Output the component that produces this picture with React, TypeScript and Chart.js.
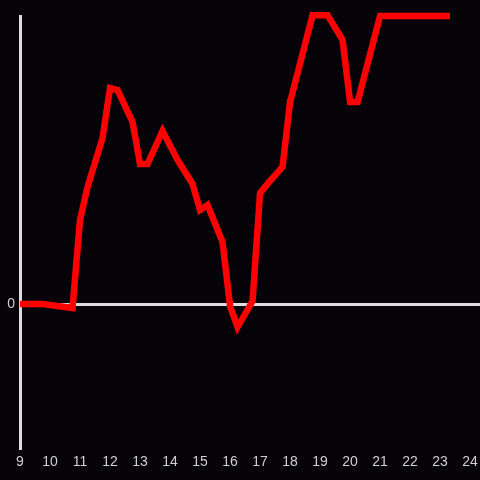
import React, { useEffect, useRef } from "react";
import { Chart, registerables } from "chart.js";

Chart.register(...registerables);

const hours: number[] = [9, 9.75, 10.75, 11, 11.25, 11.75, 12, 12.25, 12.75, 13, 13.25, 13.75, 14.25, 14.75, 15, 15.25, 15.75, 16, 16.25, 16.75, 17, 17.25, 17.75, 18, 18.75, 19.25, 19.75, 20, 20.25, 21, 23.33];
const values: number[] = [0, 0, -1.4, 29.2, 40.6, 57.6, 75, 74.3, 63.2, 48.6, 48.6, 60.1, 50, 41.7, 32.6, 34.4, 21.5, -0.7, -8, 1, 38.5, 41.7, 47.6, 70.1, 100.3, 100.3, 91.7, 70.1, 70.1, 100, 100];
const xTicks: number[] = [9, 10, 11, 12, 13, 14, 15, 16, 17, 18, 19, 20, 21, 22, 23, 24];

export default function App() {
  const ref = useRef<HTMLCanvasElement | null>(null);
  useEffect(() => {
    document.body.style.margin = "0";
    document.body.style.background = "#050307";
    const ctx = ref.current!.getContext("2d")!;
    const chart = new Chart(ctx, {
      type: "line",
      data: {
        datasets: [
          {
            data: hours.map((h, i) => ({ x: h, y: values[i] })),
            borderColor: "#ff0000",
            borderWidth: 6.5,
            pointRadius: 0,
            tension: 0,
            fill: false,
            clip: false as any,
          },
        ],
      },
      options: {
        animation: false,
        responsive: false,
        maintainAspectRatio: false,
        layout: { padding: { top: 16, right: 0, left: 0, bottom: 0 } },
        plugins: { legend: { display: false }, tooltip: { enabled: false } },
        scales: {
          x: {
            type: "linear",
            min: 9,
            max: 24.33,
            afterBuildTicks: (scale: any) => {
              scale.ticks = xTicks.map((v) => ({ value: v }));
            },
            afterFit: (scale: any) => {
              scale.height = 32;
              scale.paddingRight = 0;
              scale.paddingLeft = 0;
            },
            grid: { display: false, drawTicks: false },
            border: { display: false },
            ticks: {
              color: "#d0d0d0",
              font: { family: "'Liberation Sans', Arial, sans-serif", size: 14 },
              padding: 6,
              maxRotation: 0,
              autoSkip: false,
            },
          },
          y: {
            type: "linear",
            min: -50,
            max: 100,
            afterBuildTicks: (scale: any) => {
              scale.ticks = [{ value: 0 }];
            },
            afterFit: (scale: any) => {
              scale.width = 20;
              scale.paddingTop = 0;
              scale.paddingBottom = 0;
            },
            grid: {
              drawTicks: false,
              color: (c: any) => (c.tick && c.tick.value === 0 ? "#dddddd" : "transparent"),
              lineWidth: 3,
            },
            border: { display: true, color: "#dddddd", width: 3 },
            ticks: {
              color: "#d0d0d0",
              font: { family: "'Liberation Sans', Arial, sans-serif", size: 14 },
              padding: 5,
            },
          },
        },
      },
    });
    return () => chart.destroy();
  }, []);
  return (
    <div style={{ width: 480, height: 480, background: "#050307" }}>
      <canvas ref={ref} width={480} height={480} style={{ display: "block" }} />
    </div>
  );
}
